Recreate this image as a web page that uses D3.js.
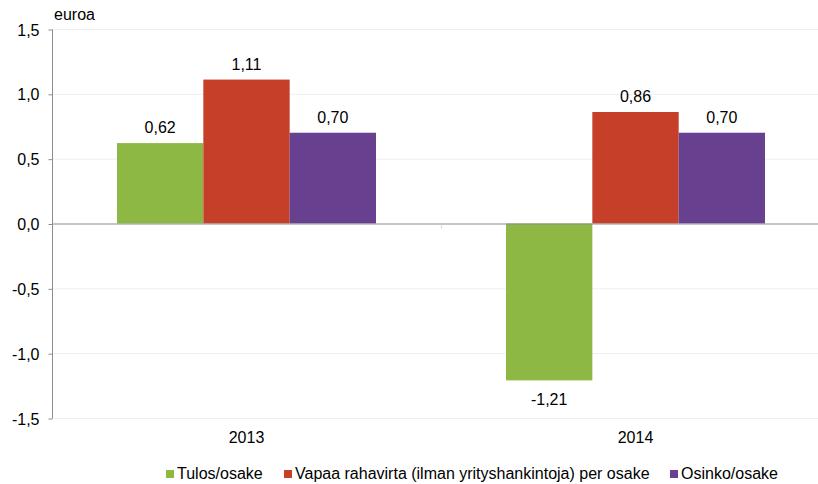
<!DOCTYPE html>
<html>
<head>
<meta charset="utf-8">
<script src="https://cdn.jsdelivr.net/npm/d3@7"></script>
<style>
  body { margin: 0; background: #fff; }
  text { font-family: "Liberation Sans", Arial, sans-serif; fill: #000; }
</style>
</head>
<body>
<div id="chart"></div>
<script>
// DATA
var years = ["2013", "2014"];
var seriesNames = ["Tulos/osake", "Vapaa rahavirta (ilman yrityshankintoja) per osake", "Osinko/osake"];
var tulos = [0.62, -1.21];
var rahavirta = [1.11, 0.86];
var osinko = [0.70, 0.70];
var yTicks = [-1.5, -1.0, -0.5, 0, 0.5, 1.0, 1.5];
var colors = ["#8db843", "#c53f29", "#67418f"];

var width = 818, height = 484;
var fs = "16px";
var svg = d3.select("#chart").append("svg")
    .attr("width", width)
    .attr("height", height);

var x0 = d3.scaleBand().domain(years).range([52, 830]).paddingInner(0).paddingOuter(0);
var x1 = d3.scaleBand().domain(d3.range(3)).range([65, 389 - 65]);
var y = d3.scaleLinear().domain([-1.5, 1.5]).range([418, 29]);

var fmt = function(v) { return d3.format(".2f")(v).replace(".", ",").replace("−", "-"); };
var fmtTick = function(v) { return d3.format(".1f")(v).replace(".", ",").replace("−", "-"); };

// gridlines
svg.selectAll(".grid")
    .data(yTicks.filter(function(d){ return d !== 0; }))
    .enter().append("line")
    .attr("x1", 52).attr("x2", 818)
    .attr("y1", function(d){ return y(d) + 0.5; })
    .attr("y2", function(d){ return y(d) + 0.5; })
    .attr("stroke", "#efefef")
    .attr("stroke-width", 1);

// y axis
var yAxis = d3.axisLeft(y).tickValues(yTicks).tickFormat(fmtTick).tickSize(4).tickPadding(9);
var gy = svg.append("g").attr("transform", "translate(52.5,0.5)").call(yAxis);
gy.select(".domain").attr("stroke", "#8c8c8c").attr("d", "M0," + y(1.5) + "V" + y(-1.5));
gy.selectAll(".tick line").attr("stroke", "#8c8c8c");
gy.selectAll(".tick text").style("font-size", fs).attr("dy", "0.35em")
    .style("font-family", "'Liberation Sans', Arial, sans-serif");

svg.append("text").attr("x", 54).attr("y", 20).style("font-size", fs).text("euroa");

// bars
var data = [];
years.forEach(function(yr, i) {
    [tulos, rahavirta, osinko].forEach(function(s, j) {
        data.push({ year: yr, k: j, value: s[i] });
    });
});

svg.selectAll(".bar")
    .data(data)
    .enter().append("rect")
    .attr("class", "bar")
    .attr("x", function(d){ return x0(d.year) + x1(d.k); })
    .attr("width", x1.bandwidth())
    .attr("y", function(d){ return y(Math.max(0, d.value)); })
    .attr("height", function(d){ return Math.abs(y(d.value) - y(0)); })
    .attr("fill", function(d){ return colors[d.k]; });

svg.selectAll(".lbl")
    .data(data)
    .enter().append("text")
    .attr("x", function(d){ return x0(d.year) + x1(d.k) + x1.bandwidth() / 2; })
    .attr("y", function(d){ return d.value >= 0 ? y(d.value) - 10 : y(d.value) + 25; })
    .attr("text-anchor", "middle")
    .style("font-size", fs)
    .text(function(d){ return fmt(d.value); });

// zero line
svg.append("line")
    .attr("x1", 52).attr("x2", 818)
    .attr("y1", y(0) + 0.5).attr("y2", y(0) + 0.5)
    .attr("stroke", "#8c8c8c");
svg.append("line")
    .attr("x1", x0("2014") + 0.5).attr("x2", x0("2014") + 0.5)
    .attr("y1", y(0) + 1).attr("y2", y(0) + 5)
    .attr("stroke", "#d9d9d9");

// x labels
svg.selectAll(".xl")
    .data(years)
    .enter().append("text")
    .attr("x", function(d){ return x0(d) + x0.bandwidth() / 2; })
    .attr("y", 443)
    .attr("text-anchor", "middle")
    .style("font-size", fs)
    .text(function(d){ return d; });

// legend
var legX = [166, 284, 670];
var leg = svg.selectAll(".leg").data(seriesNames).enter().append("g")
    .attr("transform", function(d, i){ return "translate(" + legX[i] + ",0)"; });
leg.append("rect").attr("x", 0).attr("y", 470).attr("width", 8).attr("height", 8)
    .attr("fill", function(d, i){ return colors[i]; });
leg.append("text").attr("x", 11).attr("y", 479).style("font-size", fs)
    .text(function(d){ return d; });
</script>
</body>
</html>
